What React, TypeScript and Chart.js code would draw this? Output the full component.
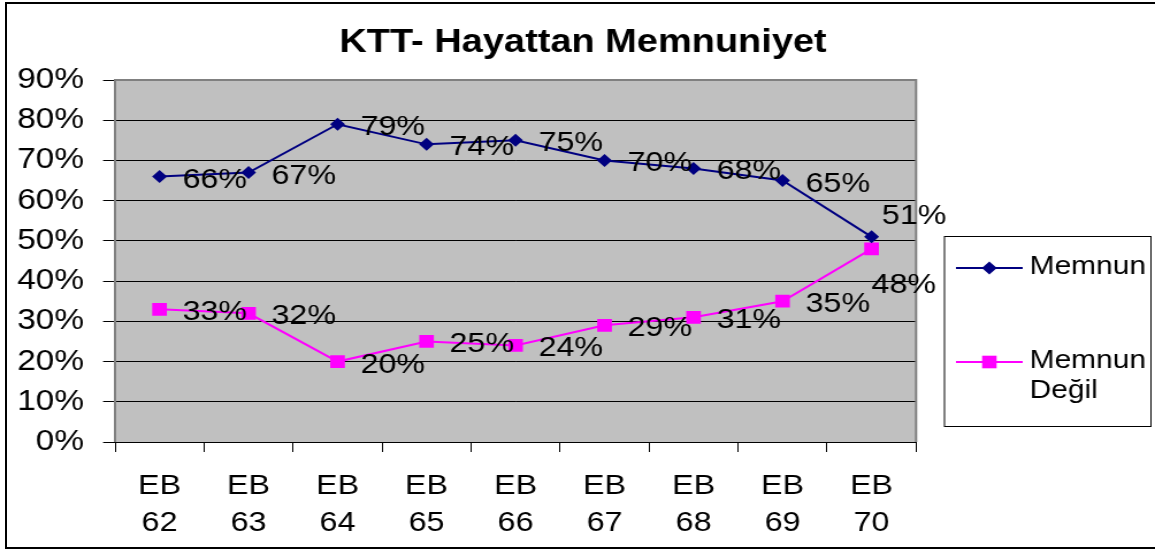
import React, { useEffect, useRef } from "react";
import { Chart, registerables } from "chart.js";

Chart.register(...registerables);

// ---- data ----
const categories = ["EB 62", "EB 63", "EB 64", "EB 65", "EB 66", "EB 67", "EB 68", "EB 69", "EB 70"];
const memnun = [66, 67, 79, 74, 75, 70, 68, 65, 51];
const memnunDegil = [33, 32, 20, 25, 24, 29, 31, 35, 48];
const seriesNames = ["Memnun", "Memnun Değil"];
const titleText = "KTT- Hayattan Memnuniyet";
const yMin = 0;
const yMax = 90;
const yStep = 10;

// ---- styling ----
const CANVAS_W = 1004;
const STRETCH = 1155 / CANVAS_W;
const FONT = "'Liberation Sans', Arial, Helvetica, sans-serif";
const NAVY = "#000080";
const MAGENTA = "#FF00FF";

function diamond(ctx: CanvasRenderingContext2D, x: number, y: number, r: number) {
  ctx.beginPath();
  ctx.moveTo(x, y - r);
  ctx.lineTo(x + r, y);
  ctx.lineTo(x, y + r);
  ctx.lineTo(x - r, y);
  ctx.closePath();
  ctx.fill();
}

const decorPlugin = {
  id: "decor",
  beforeDraw(chart: any) {
    const { ctx, chartArea: a } = chart;
    ctx.save();
    ctx.fillStyle = "#ffffff";
    ctx.fillRect(0, 0, chart.width, chart.height);
    ctx.fillStyle = "#C0C0C0";
    ctx.fillRect(a.left, a.top, a.right - a.left, a.bottom - a.top);
    ctx.restore();
  },
  beforeDatasetsDraw(chart: any) {
    const { ctx, chartArea: a } = chart;
    ctx.save();
    ctx.strokeStyle = "#808080";
    ctx.lineWidth = 2;
    ctx.beginPath();
    ctx.moveTo(a.left, a.bottom);
    ctx.lineTo(a.left, a.top);
    ctx.lineTo(a.right, a.top);
    ctx.lineTo(a.right, a.bottom);
    ctx.stroke();
    ctx.restore();
  },
  afterDatasetsDraw(chart: any) {
    const { ctx } = chart;
    ctx.save();
    ctx.font = `28px ${FONT}`;
    ctx.fillStyle = "#000";
    ctx.textAlign = "left";
    ctx.textBaseline = "alphabetic";
    const n = categories.length;
    chart.data.datasets.forEach((ds: any, di: number) => {
      const meta = chart.getDatasetMeta(di);
      meta.data.forEach((pt: any, i: number) => {
        let dx = 20;
        let dy = 11;
        if (i === n - 1 && di === 0) { dx = 9; dy = -13; }
        if (i === n - 1 && di === 1) { dx = 0; dy = 44; }
        ctx.fillText(`${ds.data[i]}%`, pt.x + dx, pt.y + dy);
      });
    });
    ctx.restore();
  },
  afterDraw(chart: any) {
    const { ctx } = chart;
    ctx.save();
    // title
    ctx.font = `bold 33px ${FONT}`;
    ctx.fillStyle = "#000";
    ctx.textAlign = "center";
    ctx.textBaseline = "alphabetic";
    ctx.fillText(titleText, 506.8, 52);

    // legend box
    ctx.strokeStyle = "#000";
    ctx.lineWidth = 1;
    ctx.strokeRect(821, 236.5, 179.5, 190);

    ctx.font = `26px ${FONT}`;
    ctx.textAlign = "left";
    // entry 1
    ctx.strokeStyle = NAVY;
    ctx.lineWidth = 2;
    ctx.beginPath();
    ctx.moveTo(831, 268);
    ctx.lineTo(889, 268);
    ctx.stroke();
    ctx.fillStyle = NAVY;
    diamond(ctx, 860, 268, 6.5);
    ctx.fillStyle = "#000";
    ctx.fillText(seriesNames[0], 895, 274);
    // entry 2
    ctx.strokeStyle = MAGENTA;
    ctx.beginPath();
    ctx.moveTo(831, 362);
    ctx.lineTo(889, 362);
    ctx.stroke();
    ctx.fillStyle = MAGENTA;
    ctx.fillRect(860 - 6.3, 362 - 6.3, 12.6, 12.6);
    ctx.fillStyle = "#000";
    const parts = seriesNames[1].split(" ");
    parts.forEach((p, i) => ctx.fillText(p, 895, 368 + i * 30));
    ctx.restore();
  },
};

export default function App() {
  const canvasRef = useRef<HTMLCanvasElement | null>(null);

  useEffect(() => {
    if (!canvasRef.current) return;
    const chart = new Chart(canvasRef.current, {
      type: "line",
      data: {
        labels: categories.map((c) => c.split(" ")),
        datasets: [
          {
            label: seriesNames[0],
            data: memnun,
            borderColor: NAVY,
            backgroundColor: NAVY,
            borderWidth: 2,
            pointStyle: "rectRot",
            pointRadius: 6.5,
            pointHoverRadius: 6.5,
            pointBorderWidth: 0,
            tension: 0,
          },
          {
            label: seriesNames[1],
            data: memnunDegil,
            borderColor: MAGENTA,
            backgroundColor: MAGENTA,
            borderWidth: 2,
            pointStyle: "rect",
            pointRadius: 9,
            pointHoverRadius: 9,
            pointBorderWidth: 0,
            tension: 0,
          },
        ],
      },
      options: {
        animation: false,
        responsive: true,
        maintainAspectRatio: false,
        events: [],
        layout: { padding: { top: 80, right: CANVAS_W - 796.3, bottom: 0, left: 0 } },
        plugins: {
          legend: { display: false },
          title: { display: false },
          tooltip: { enabled: false },
        },
        scales: {
          x: {
            type: "category",
            offset: true,
            afterFit: (s: any) => { s.height = 108; },
            grid: {
              offset: true,
              drawOnChartArea: false,
              drawTicks: true,
              tickLength: 10,
              color: "#000",
              lineWidth: 1,
            },
            border: { display: true, color: "#000", width: 1 },
            ticks: {
              color: "#000",
              font: { family: FONT, size: 28, lineHeight: 1.3 },
              padding: 16.5,
              maxRotation: 0,
              autoSkip: false,
            },
          },
          y: {
            min: yMin,
            max: yMax,
            afterFit: (s: any) => { s.width = 100; },
            grid: {
              color: "#000",
              lineWidth: 1,
              drawTicks: true,
              tickLength: 10.4,
            },
            border: { display: false },
            ticks: {
              stepSize: yStep,
              color: "#000",
              font: { family: FONT, size: 29 },
              padding: 16.6,
              callback: (v: any) => `${v}%`,
            },
          },
        },
      },
      plugins: [decorPlugin],
    });
    return () => chart.destroy();
  }, []);

  return (
    <>
      <div
        style={{
          position: "absolute",
          left: 0,
          top: 0,
          width: CANVAS_W,
          height: 550,
          transform: `scaleX(${STRETCH})`,
          transformOrigin: "0 0",
        }}
      >
        <canvas ref={canvasRef} />
      </div>
      <div
        style={{
          position: "absolute",
          left: 5,
          top: 2,
          width: 1150,
          height: 547,
          borderTop: "2px solid #000",
          borderLeft: "2px solid #000",
          borderBottom: "2px solid #000",
          boxSizing: "border-box",
          pointerEvents: "none",
        }}
      />
    </>
  );
}
